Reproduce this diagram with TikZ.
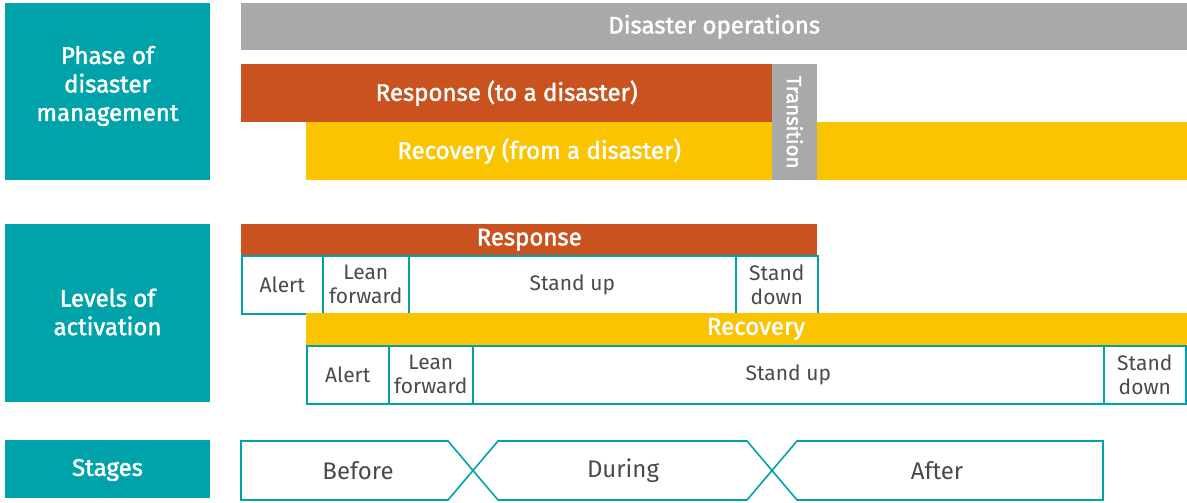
\documentclass[tikz,border=0pt]{standalone}
\usepackage{fontspec}
\setmainfont{Fira Sans}
\newfontfamily\medfont{Fira Sans}[FakeBold=1.8]
\definecolor{teal}{HTML}{00A3A9}
\definecolor{rorange}{HTML}{C9521F}
\definecolor{ryellow}{HTML}{FAC500}
\definecolor{rgray}{HTML}{A8A9AB}
\definecolor{dtext}{HTML}{4A4A4A}
\tikzset{
  bar/.style={draw=none, inner sep=0pt, anchor=north west, text=white, font=\medfont\fontsize{24}{28}\selectfont},
  side/.style={draw=none, inner sep=0pt, anchor=north west, fill=teal},
  sidetext/.style={text=white, align=center, font=\medfont\fontsize{24}{28.5}\selectfont},
  cell/.style={draw=teal, line width=1.6pt, fill=white, inner sep=0pt, anchor=north west, text=dtext, align=center, font=\fontsize{21}{24}\selectfont},
  stagebox/.style={draw=teal, line width=1.6pt, fill=white},
  stagetext/.style={text=dtext, font=\fontsize{24}{28}\selectfont},
}
\begin{document}
\begin{tikzpicture}[x=1pt,y=-1pt]
\useasboundingbox (0,0) rectangle (1187,503);
% left labels
\node[side, minimum width=205, minimum height=177] (phase) at (5,3) {};
\node[sidetext] (phaselabel) at (107.5,86) {Phase of\\disaster\\management};
\node[side, minimum width=205, minimum height=178] (levels) at (5,224) {};
\node[sidetext] (levelslabel) at (107.5,312) {Levels of\\activation};
\node[side, minimum width=205, minimum height=58] (stages) at (5,440) {};
\node[sidetext] (stageslabel) at (107.5,470) {Stages};
% phase of disaster management
\node[bar, fill=rgray, minimum width=946, minimum height=47] (ops) at (241,3) {Disaster operations};
\node[bar, fill=rorange, minimum width=531, minimum height=58] (resp) at (241,64) {Response (to a disaster)};
\node[bar, fill=ryellow, minimum width=466, minimum height=58] (rec) at (306,122) {Recovery (from a disaster)};
\node[bar, fill=ryellow, minimum width=370, minimum height=58] (rec2) at (817,122) {};
\node[bar, fill=rgray, minimum width=45, minimum height=116] (trans) at (772,64) {};
\node[text=white, rotate=-90, font=\medfont\fontsize{20.5}{22}\selectfont] (translabel) at (trans.center) {Transition};
% levels of activation - response
\node[bar, fill=rorange, minimum width=576, minimum height=31] (rhdr) at (241,224) {Response};
\node[cell, minimum width=81, minimum height=58] (ralert) at (241,255) {Alert};
\node[cell, minimum width=86, minimum height=58] (rlean) at (322,255) {Lean\\forward};
\node[cell, minimum width=327, minimum height=58] (rup) at (408,255) {Stand up};
\node[cell, minimum width=82, minimum height=58] (rdown) at (735,255) {Stand\\down};
% levels of activation - recovery
\node[bar, fill=ryellow, minimum width=881, minimum height=32] (chdr) at (306,313) {};
\node[text=white, font=\medfont\fontsize{24}{28}\selectfont] (chdrlabel) at (756,329) {Recovery};
\node[cell, minimum width=82, minimum height=58] (calert) at (306,345) {Alert};
\node[cell, minimum width=84, minimum height=58] (clean) at (388,345) {Lean\\forward};
\node[cell, minimum width=631, minimum height=58] (cup) at (472,345) {Stand up};
\node[cell, minimum width=82, minimum height=58] (cdown) at (1103,345) {Stand\\down};
% stages
\draw[stagebox] (241,441) -- (448,441) -- (473,470.5) -- (448,500) -- (241,500) -- cycle;
\draw[stagebox] (498,441) -- (747,441) -- (772,470.5) -- (747,500) -- (498,500) -- (473,470.5) -- cycle;
\draw[stagebox] (797,441) -- (1103,441) -- (1103,500) -- (797,500) -- (772,470.5) -- cycle;
\node[stagetext] (before) at (358,470.5) {Before};
\node[stagetext] (during) at (623,470.5) {During};
\node[stagetext] (after) at (937,470.5) {After};
\end{tikzpicture}
\end{document}
